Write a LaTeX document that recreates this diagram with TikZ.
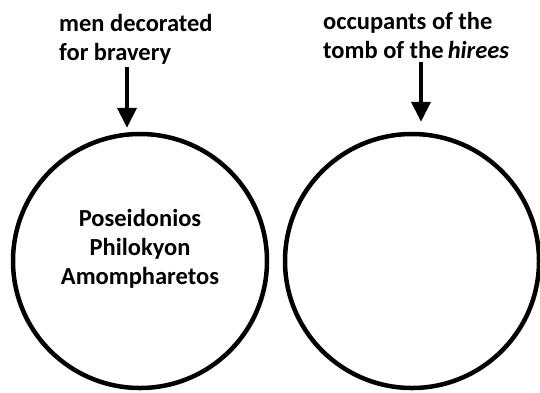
\documentclass[tikz,border=0pt]{standalone}
\usepackage{fontspec}
\setmainfont{Carlito}
\usetikzlibrary{arrows.meta,positioning}

\begin{document}
\begin{tikzpicture}[x=1pt,y=-1pt,>={Triangle[width=19pt,length=20pt]},
		ring/.style={circle,draw,line width=4.5pt,minimum size=254pt,inner sep=0pt},
		heading/.style={align=left,anchor=north west,inner sep=0pt,font=\bfseries\fontsize{24.5}{29.5}\selectfont},
		names/.style={align=center,inner sep=0pt,font=\bfseries\fontsize{24.5}{29}\selectfont},
		pointer/.style={->,line width=4pt}]
		\useasboundingbox (0,0) rectangle (540,392);
		\node[ring] (brave) at (140,261) {};
		\node[ring] (tomb) at (412,261) {};
		\node[heading] (braveh) at (59,14) {men decorated\\for bravery};
		\node[heading] (tombh) at (323,12) {occupants of the\\tomb of the\,\textit{hirees}};
		\node[names] (list) at ([yshift=12pt]brave.center) {Poseidonios\\Philokyon\\Amompharetos};
		\coordinate (p1) at (127,67);
		\coordinate (p2) at (421,62);
	
		\draw[pointer] (p1) -- (p1 |- brave.north) [shorten >=4pt];
		\draw[pointer] (p2) -- (p2 |- tomb.north) [shorten >=10pt];
\end{tikzpicture}
\end{document}
